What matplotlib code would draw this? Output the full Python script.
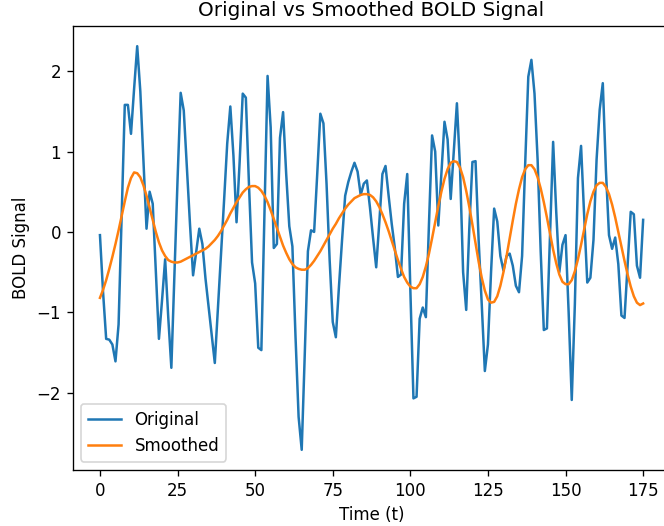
import matplotlib
matplotlib.use("Agg")
import matplotlib.pyplot as plt
import numpy as np

time_points = np.arange(176)

original = [
    -0.04, -0.75, -1.33, -1.34, -1.40, -1.61, -1.15, 0.20, 1.58, 1.58,
    1.22, 1.78, 2.31, 1.75, 0.90, 0.04, 0.50, 0.35, -0.50, -1.33,
    -0.85, -0.34, -1.06, -1.69, -0.50, 0.65, 1.73, 1.51, 0.80, 0.10,
    -0.54, -0.25, 0.04, -0.15, -0.58, -0.93, -1.29, -1.63, -0.96, -0.28,
    0.40, 1.10, 1.56, 0.95, 0.12, 0.87, 1.72, 1.67, 0.60, -0.38,
    -0.64, -1.44, -1.47, 0.22, 1.94, 1.30, -0.20, -0.15, 1.17, 1.49,
    0.72, 0.07, -0.18, -1.30, -2.30, -2.71, -1.50, -0.24, 0.02, 0.00,
    0.72, 1.47, 1.35, 0.60, -0.35, -1.12, -1.31, -0.68, -0.10, 0.45,
    0.62, 0.75, 0.86, 0.75, 0.46, 0.60, 0.64, 0.30, -0.08, -0.44,
    0.12, 0.72, 0.82, 0.45, 0.10, -0.20, -0.56, -0.53, 0.35, 0.72,
    -0.72, -2.07, -2.05, -1.08, -0.94, -1.06, 0.10, 1.20, 1.00, 0.08,
    0.72, 1.37, 1.15, 0.41, 1.00, 1.60, 0.80, -0.50, -0.97, 0.05,
    0.87, 0.88, -0.10, -0.90, -1.73, -1.40, -0.50, 0.29, 0.13, -0.30,
    -0.48, -0.30, -0.27, -0.42, -0.67, -0.75, -0.30, 0.85, 1.93, 2.14,
    1.72, 0.90, -0.25, -1.22, -1.20, -0.05, 1.12, 0.25, -0.50, -0.16,
    -0.04, -1.00, -2.09, -0.90, 0.67, 1.07, 0.20, -0.63, -0.57, -0.10,
    0.90, 1.52, 1.85, 0.77, -0.04, -0.21, -0.07, -0.40, -1.04, -1.07,
    -0.40, 0.25, 0.22, -0.42, -0.57, 0.15,
]

smoothed = [
    -0.82, -0.72, -0.60, -0.46, -0.31, -0.15, 0.02, 0.20, 0.38, 0.55,
    0.67, 0.74, 0.73, 0.68, 0.58, 0.45, 0.30, 0.15, 0.00, -0.13,
    -0.23, -0.30, -0.35, -0.37, -0.38, -0.38, -0.37, -0.35, -0.33, -0.31,
    -0.29, -0.27, -0.25, -0.23, -0.21, -0.18, -0.14, -0.10, -0.05, 0.01,
    0.08, 0.15, 0.23, 0.30, 0.37, 0.43, 0.49, 0.53, 0.56, 0.57,
    0.57, 0.55, 0.51, 0.45, 0.37, 0.27, 0.16, 0.05, -0.06, -0.17,
    -0.26, -0.34, -0.40, -0.44, -0.46, -0.47, -0.47, -0.45, -0.41, -0.36,
    -0.30, -0.24, -0.17, -0.10, -0.03, 0.04, 0.10, 0.17, 0.23, 0.29,
    0.34, 0.38, 0.42, 0.44, 0.46, 0.47, 0.47, 0.46, 0.43, 0.38,
    0.31, 0.22, 0.12, 0.01, -0.11, -0.23, -0.35, -0.46, -0.56, -0.63,
    -0.68, -0.70, -0.70, -0.65, -0.56, -0.43, -0.27, -0.08, 0.12, 0.32,
    0.50, 0.66, 0.78, 0.86, 0.88, 0.87, 0.80, 0.68, 0.51, 0.31,
    0.09, -0.14, -0.37, -0.57, -0.73, -0.84, -0.88, -0.87, -0.80, -0.67,
    -0.50, -0.30, -0.08, 0.14, 0.35, 0.53, 0.68, 0.78, 0.83, 0.83,
    0.78, 0.68, 0.54, 0.37, 0.18, -0.02, -0.22, -0.39, -0.53, -0.62,
    -0.65, -0.65, -0.60, -0.49, -0.34, -0.16, 0.03, 0.22, 0.38, 0.50,
    0.58, 0.61, 0.61, 0.56, 0.47, 0.34, 0.18, 0.00, -0.18, -0.36,
    -0.53, -0.68, -0.80, -0.88, -0.91, -0.89,
]

DPI = 120
fig = plt.figure(figsize=(664 / DPI, 526 / DPI), dpi=DPI)
ax = fig.add_axes([72.8 / 664, 56 / 526, 597.5 / 664, 444 / 526])
ax.plot(time_points, original, label="Original")
ax.plot(time_points, smoothed, label="Smoothed")
ax.set_title("Original vs Smoothed BOLD Signal")
ax.set_xlabel("Time (t)")
ax.set_ylabel("BOLD Signal")
ax.legend(loc="lower left")
fig.savefig("out.png", dpi=DPI)
